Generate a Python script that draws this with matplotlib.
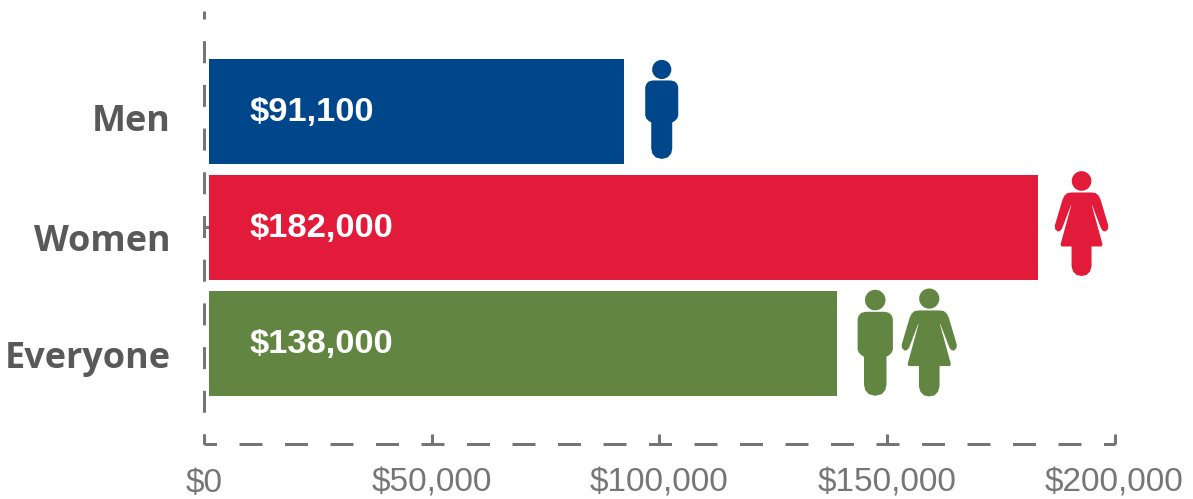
import matplotlib
matplotlib.use('Agg')
import matplotlib.pyplot as plt
from matplotlib.patches import Circle, Polygon
from matplotlib.transforms import Affine2D, ScaledTranslation
import numpy as np

labels = ['Men', 'Women', 'Everyone']
values = [91100, 182000, 138000]
value_text = ['$91,100', '$182,000', '$138,000']
colors = ['#00468b', '#e31b3a', '#628542']
xticks = [0, 50000, 100000, 150000, 200000]
xticklabels = ['$0', '$50,000', '$100,000', '$150,000', '$200,000']

W, H = 1193, 499
px = 72.0 / 100  # points per pixel
grey = '#757575'
plt.rcParams['lines.scale_dashes'] = False

fig = plt.figure(figsize=(W / 100, H / 100), dpi=100)
# axes box in pixels: x 204-1114.5, y 11-444
ax = fig.add_axes([204 / W, 1 - 444 / H, 910.5 / W, 433 / H])
ax.set_xlim(0, 200000)
ax.set_ylim(2.8664, -0.866)  # 116 px per category
ax.patch.set_visible(False)

ypos = np.arange(len(labels))
# bars sit a few px right of the axis line
bar_shift = 5
shift = ScaledTranslation(bar_shift * px / 72, 0, fig.dpi_scale_trans)
ax.barh(ypos, values, height=105 / 116, color=colors, transform=ax.transData + shift, zorder=2)

# axis lines
for s in ax.spines.values():
    s.set_visible(False)
ax.plot([0, 0], [0, 1], transform=ax.transAxes, color=grey, lw=3 * px, clip_on=False,
        linestyle=(12 * px, (22 * px, 21.7 * px)), dash_capstyle='butt')
ax.plot([0, 1], [0, 0], transform=ax.transAxes, color=grey, lw=3 * px, clip_on=False,
        linestyle=(10.5 * px, (23 * px, 22.5 * px)), dash_capstyle='butt')

ax.set_xticks(xticks)
ax.set_xticklabels(xticklabels, fontsize=24, color='#767676', fontname='Liberation Sans')
ax.tick_params(axis='x', direction='in', length=10 * px, width=3 * px, color=grey, pad=24 * px)
ax.set_yticks([1])
ax.set_yticklabels([''])
ax.tick_params(axis='y', direction='in', length=5 * px, width=3 * px, color=grey)

# category labels, value labels
label_baseline = [19.5, 23.5, 24.5]
for i, name in enumerate(labels):
    ax.annotate(name, (0, i), xytext=(-33.5 * px, -label_baseline[i] * px), textcoords='offset points',
                ha='right', va='baseline', fontsize=25.9, fontweight='bold', color='#595959',
                fontname='Open Sans', annotation_clip=False)
    ax.annotate(value_text[i], (0, i), xytext=(45 * px, -0.7 * px), textcoords='offset points',
                ha='left', va='center', fontsize=24.8, fontweight='bold', color='white',
                fontname='Liberation Sans', zorder=3)

# person icons, half outlines in px from centre line
man_half = [(0, -31), (9, -31), (13, -30), (15.5, -27.5), (16.5, -24), (16.5, 4), (15.5, 7), (13, 9.5), (10.5, 11),
            (10.5, 37), (9.5, 42), (6, 46), (0, 47.5)]
woman_half = [(0, -35), (10, -35), (14, -34.5), (17, -32), (19, -28), (26.7, -2), (26.5, 1.5), (24, 4), (21.5, 3.5), (19.5, 1),
              (10.7, -22), (10.3, -22), (21, 17), (20, 19), (10, 19), (10, 39), (8.5, 44), (5, 47.5), (0, 48.5)]


def place(ax, outline, x_px, y_px, head_dy, head_r, color, scale=1.0):
    to_px = Affine2D().scale(scale, -scale).translate(x_px, y_px)
    pts = outline + [(-a, b) for a, b in outline[::-1]]
    ax.add_patch(Polygon(pts, closed=True, facecolor=color, edgecolor='none', transform=to_px, clip_on=False, zorder=3))
    ax.add_patch(Circle((0, head_dy), head_r, facecolor=color, edgecolor='none', transform=to_px, clip_on=False, zorder=3))


# icon gaps after bar end (px), drop below bar centre (px), scale
icons = [(0, 'man', 38, 0, 1.0), (1, 'woman', 44, 0, 1.0), (2, 'man', 38, 1.5, 1.07), (2, 'woman', 92, 3, 1.03)]
for i, kind, gap, drop, sc in icons:
    x0, y0 = ax.transData.transform((values[i], i))
    x0 = x0 + bar_shift + gap
    y0 = y0 - drop
    if kind == 'man':
        place(ax, man_half, x0, y0, -42, 9.6, colors[i], sc)
    else:
        place(ax, woman_half, x0, y0, -46.5, 9.8, colors[i], sc)

fig.savefig('out.png', dpi=100)
